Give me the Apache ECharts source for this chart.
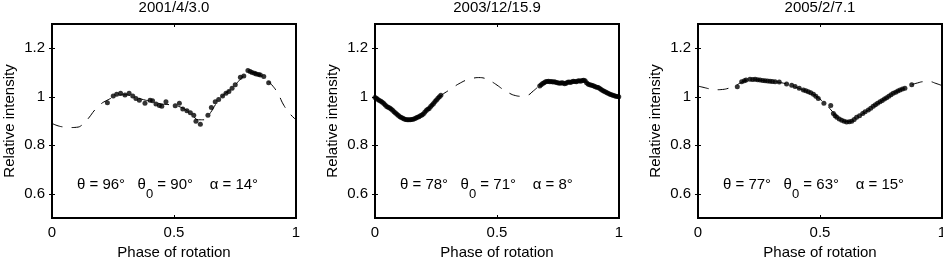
<!DOCTYPE html>
<html>
<head>
<meta charset="utf-8">
<script src="https://cdn.jsdelivr.net/npm/echarts@6/dist/echarts.min.js"></script>
<style>html,body{margin:0;padding:0;background:#fff}#c{width:943px;height:260px}</style>
</head>
<body>
<div id="c"></div>
<script>
// ---------- data ----------
const titles = ['2001/4/3.0', '2003/12/15.9', '2005/2/7.1'];
const annTheta = ['96', '78', '77'];
const annTheta0 = ['90', '71', '63'];
const annAlpha = ['14', '8', '15'];
const yTicks = [0.6, 0.8, 1, 1.2];
const xTicks = [0, 0.5, 1];

// model phases (step 0.025)
const modelPhase = [0,0.025,0.05,0.075,0.1,0.125,0.15,0.175,0.2,0.225,0.25,0.275,0.3,0.325,0.35,0.375,0.4,0.425,0.45,0.475,0.5,0.525,0.55,0.575,0.6,0.625,0.65,0.675,0.7,0.725,0.75,0.775,0.8,0.825,0.85,0.875,0.9,0.925,0.95,0.975,1.0];
const model1 = [0.890,0.880,0.875,0.873,0.874,0.885,0.912,0.945,0.970,0.985,0.997,1.006,1.008,1.003,0.995,0.988,0.982,0.976,0.970,0.968,0.965,0.958,0.945,0.925,0.905,0.905,0.935,0.975,1.005,1.025,1.048,1.075,1.097,1.100,1.090,1.075,1.050,1.015,0.965,0.930,0.905];
const model2 = [0.997,0.980,0.960,0.940,0.920,0.907,0.905,0.915,0.933,0.958,0.985,1.008,1.025,1.042,1.057,1.069,1.076,1.079,1.076,1.064,1.048,1.030,1.015,1.005,1.002,1.006,1.025,1.045,1.058,1.062,1.062,1.060,1.060,1.063,1.065,1.055,1.043,1.032,1.018,1.007,0.998];
const model3 = [1.044,1.038,1.032,1.029,1.030,1.035,1.043,1.058,1.068,1.071,1.069,1.066,1.064,1.061,1.056,1.049,1.040,1.030,1.021,1.008,0.990,0.968,0.940,0.913,0.899,0.898,0.912,0.930,0.946,0.963,0.981,0.998,1.014,1.027,1.037,1.049,1.057,1.062,1.062,1.055,1.046];

// observations [phase, relative intensity]
const obs1 = [[0.227,0.975],[0.251,1.003],[0.265,1.010],[0.281,1.014],[0.299,1.007],[0.316,1.014],[0.331,1.003],[0.344,0.993],[0.358,0.986],[0.381,0.973],[0.402,0.986],[0.412,0.984],[0.426,0.970],[0.440,0.964],[0.450,0.961],[0.467,0.979],[0.505,0.963],[0.522,0.973],[0.536,0.949],[0.553,0.942],[0.567,0.934],[0.581,0.924],[0.590,0.899],[0.608,0.887],[0.639,0.924],[0.653,0.956],[0.669,0.979],[0.683,0.989],[0.699,1.003],[0.713,1.014],[0.725,1.022],[0.738,1.035],[0.751,1.049],[0.772,1.080],[0.786,1.086],[0.803,1.108],[0.812,1.104],[0.820,1.100],[0.830,1.097],[0.837,1.094],[0.847,1.092],[0.854,1.090],[0.868,1.083],[0.888,1.058]];
const obs2 = [[0.000,0.997],[0.006,0.994],[0.012,0.989],[0.018,0.985],[0.024,0.981],[0.030,0.977],[0.036,0.972],[0.042,0.966],[0.048,0.960],[0.054,0.957],[0.060,0.954],[0.066,0.950],[0.072,0.944],[0.078,0.938],[0.084,0.933],[0.090,0.928],[0.096,0.923],[0.102,0.918],[0.108,0.914],[0.114,0.911],[0.120,0.908],[0.126,0.906],[0.132,0.905],[0.138,0.905],[0.144,0.905],[0.150,0.906],[0.156,0.907],[0.162,0.909],[0.168,0.912],[0.174,0.915],[0.180,0.918],[0.186,0.922],[0.192,0.925],[0.198,0.929],[0.204,0.936],[0.210,0.943],[0.216,0.948],[0.222,0.952],[0.228,0.960],[0.234,0.966],[0.240,0.972],[0.246,0.980],[0.252,0.987],[0.258,0.994],[0.264,1.000],[0.270,1.006],
[0.675,1.044],[0.681,1.050],[0.687,1.055],[0.693,1.058],[0.699,1.062],[0.705,1.063],[0.711,1.064],[0.717,1.062],[0.723,1.063],[0.729,1.061],[0.735,1.062],[0.741,1.060],[0.747,1.058],[0.753,1.057],[0.759,1.056],[0.765,1.058],[0.771,1.057],[0.777,1.054],[0.783,1.056],[0.789,1.060],[0.795,1.061],[0.801,1.059],[0.807,1.062],[0.813,1.064],[0.819,1.063],[0.825,1.062],[0.831,1.065],[0.837,1.066],[0.843,1.064],[0.849,1.067],[0.855,1.068],[0.861,1.066],[0.867,1.058],[0.873,1.053],[0.879,1.050],[0.885,1.048],[0.891,1.046],[0.897,1.044],[0.903,1.041],[0.909,1.039],[0.915,1.038],[0.921,1.034],[0.927,1.030],[0.933,1.026],[0.939,1.023],[0.945,1.020],[0.951,1.016],[0.957,1.013],[0.963,1.010],[0.969,1.008],[0.975,1.006],[0.981,1.004],[0.987,1.002],[0.993,1.001],[0.999,1.000]];
const obs3 = [[0.161,1.041],[0.179,1.062],[0.190,1.066],[0.197,1.069],[0.213,1.072],[0.224,1.071],[0.234,1.072],[0.244,1.070],[0.254,1.069],[0.265,1.067],[0.275,1.066],[0.285,1.065],[0.295,1.064],[0.305,1.063],[0.316,1.062],[0.333,1.061],[0.363,1.053],[0.384,1.047],[0.398,1.042],[0.415,1.035],[0.432,1.028],[0.442,1.025],[0.452,1.021],[0.462,1.016],[0.473,1.010],[0.483,1.002],[0.493,0.993],[0.516,0.973],[0.544,0.964],[0.555,0.931],[0.562,0.922],[0.569,0.915],[0.579,0.908],[0.589,0.903],[0.599,0.899],[0.609,0.896],[0.620,0.897],[0.630,0.899],[0.640,0.906],[0.650,0.915],[0.662,0.922],[0.675,0.931],[0.685,0.938],[0.698,0.945],[0.708,0.953],[0.718,0.961],[0.727,0.967],[0.736,0.973],[0.746,0.979],[0.755,0.985],[0.764,0.991],[0.773,0.996],[0.782,1.002],[0.791,1.008],[0.800,1.014],[0.810,1.019],[0.819,1.024],[0.828,1.028],[0.838,1.032],[0.848,1.035],[0.876,1.049]];

const models = [model1, model2, model3];
const observations = [obs1, obs2, obs3];

// ---------- layout ----------
const lefts = [52, 375, 698];
const W = 244, TOP = 24, H = 194;
const FONT = "'Liberation Sans', Arial, Helvetica, sans-serif";
const FS = 15;

const chart = echarts.init(document.getElementById('c'), null, {renderer: 'canvas'});
const grid = [], xAxis = [], yAxis = [], series = [], title = [], graphic = [];

for (let i = 0; i < 3; i++) {
  grid.push({left: lefts[i], top: TOP, width: W, height: H, show: true, borderColor: '#000', borderWidth: 2,
    backgroundColor: '#fff', containLabel: false, outerBoundsMode: 'none'});
  title.push({text: titles[i], left: lefts[i] + W / 2, top: 0, padding: 0, textAlign: 'center',
    textStyle: {fontFamily: FONT, fontSize: FS, fontWeight: 'normal', color: '#000'}});
  // bottom x
  xAxis.push({type: 'value', gridIndex: i, min: 0, max: 1, interval: 0.5, position: 'bottom',
    name: 'Phase of rotation', nameLocation: 'middle', nameGap: 25,
    nameTextStyle: {fontFamily: FONT, fontSize: FS, color: '#000'},
    axisLine: {show: false}, splitLine: {show: false},
    axisTick: {show: true, inside: true, length: 3, lineStyle: {color: '#000'}, customValues: xTicks},
    axisLabel: {fontFamily: FONT, fontSize: FS, color: '#000', margin: 7, customValues: xTicks}});
  // top x
  xAxis.push({type: 'value', gridIndex: i, min: 0, max: 1, interval: 0.5, position: 'top',
    axisLine: {show: false}, splitLine: {show: false}, axisLabel: {show: false},
    axisTick: {show: true, inside: true, length: 3, lineStyle: {color: '#000'}, customValues: xTicks}});
  // left y
  yAxis.push({type: 'value', gridIndex: i, min: 0.5, max: 1.3, position: 'left',
    name: 'Relative intensity', nameLocation: 'middle', nameGap: 35, nameRotate: 90,
    nameTextStyle: {fontFamily: FONT, fontSize: FS, color: '#000'},
    axisLine: {show: false}, splitLine: {show: false},
    axisTick: {show: true, inside: true, length: 3, lineStyle: {color: '#000'}, customValues: yTicks},
    axisLabel: {fontFamily: FONT, fontSize: FS, color: '#000', margin: 7, customValues: yTicks,
      formatter: v => String(Math.round(v * 10) / 10)}});
  // right y
  yAxis.push({type: 'value', gridIndex: i, min: 0.5, max: 1.3, position: 'right',
    axisLine: {show: false}, splitLine: {show: false}, axisLabel: {show: false},
    axisTick: {show: true, inside: true, length: 3, lineStyle: {color: '#000'}, customValues: yTicks}});

  series.push({type: 'line', xAxisIndex: 2 * i, yAxisIndex: 2 * i, showSymbol: false, smooth: true,
    data: modelPhase.map((p, k) => [p, models[i][k]]),
    lineStyle: {color: '#000', width: 1, type: [11, 9]}, silent: true, animation: false, z: 2});
  series.push({type: 'scatter', xAxisIndex: 2 * i, yAxisIndex: 2 * i, symbol: 'circle', symbolSize: 5,
    data: observations[i], itemStyle: {color: '#000'}, silent: true, animation: false, z: 3});

  graphic.push({type: 'text', left: lefts[i] + 25, top: 177.5, z: 10,
    style: {
      text: '{a|θ = ' + annTheta[i] + '°   θ}{s|0}{a| = ' + annTheta0[i] + '°    α = ' + annAlpha[i] + '°}',
      rich: {
        a: {fontFamily: FONT, fontSize: FS, fill: '#000', lineHeight: 23, verticalAlign: 'top'},
        s: {fontFamily: FONT, fontSize: 13, fill: '#000', lineHeight: 23, verticalAlign: 'bottom'}
      }
    }});
}

chart.setOption({backgroundColor: '#fff', animation: false, title, grid, xAxis, yAxis, series, graphic});
</script>
</body>
</html>
